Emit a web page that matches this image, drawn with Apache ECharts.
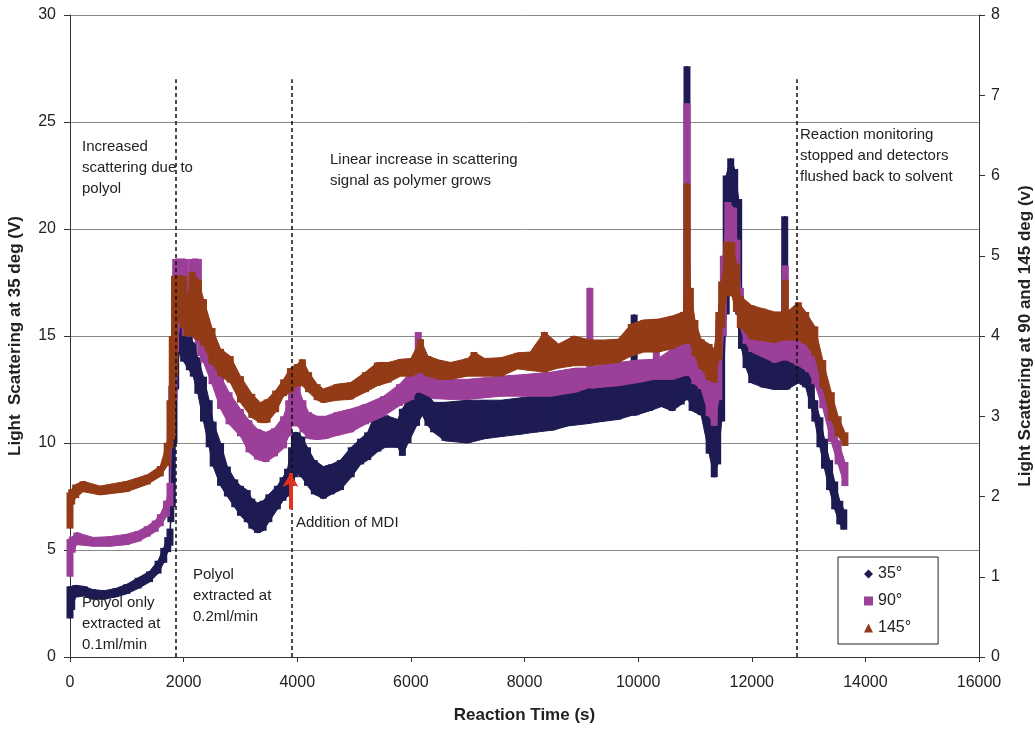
<!DOCTYPE html>
<html><head><meta charset="utf-8">
<script src="https://cdn.jsdelivr.net/npm/echarts@6/dist/echarts.min.js"></script>
<style>html,body{margin:0;padding:0;background:#fff}#c{width:1035px;height:729px}</style>
</head><body><div id="c"></div>
<script>
// ---- 35° (left axis, V): time, lower and upper edge of the scatter band ----
const time35 = [0,30,100,250,400,600,800,1000,1200,1400,1550,1650,1720,1760,1775,1800,1830,1860,1920,2000,2100,2170,2250,2350,2450,2520,2650,2770,2900,3000,3120,3200,3300,3400,3500,3650,3750,3830,3900,3950,4000,4080,4180,4300,4460,4600,4760,4950,5115,5240,5420,5550,5770,5850,5950,6100,6200,6300,6400,6600,7000,7300,7590,7900,8170,8500,8770,9100,9350,9650,9900,9930,9960,10200,10410,10600,10760,10830,10860,10890,10950,11110,11250,11340,11400,11470,11550,11630,11700,11770,11820,11900,12000,12200,12400,12540,12580,12620,12820,12950,13050,13110,13200,13280,13370,13460,13550,13620];
const low35  = [1.8,2.2,2.8,2.85,2.7,2.7,2.8,2.95,3.2,3.5,3.9,4.4,4.9,5.2,6.3,7.0,10.0,12.5,14.2,13.8,13.4,13.1,12.3,11.0,9.8,8.9,8.0,7.5,7.0,6.6,6.3,6.0,5.8,5.9,6.3,6.9,7.3,7.5,8.0,8.4,8.6,8.4,8.0,7.6,7.4,7.6,7.8,8.4,9.0,9.2,9.6,9.8,9.8,9.4,10.0,10.8,11.3,10.8,10.5,10.1,10.0,10.2,10.3,10.4,10.5,10.6,10.8,10.9,11.0,11.1,11.3,11.3,11.3,11.5,11.7,11.5,11.8,12.0,12.5,12.0,11.5,11.3,9.5,8.4,9.0,11.0,16.0,21.0,19.5,16.0,14.4,13.5,12.8,12.6,12.5,12.5,12.5,12.5,12.8,12.6,11.6,11.0,9.8,8.8,7.8,6.9,6.2,5.95];
const high35 = [3.3,3.3,3.35,3.3,3.15,3.1,3.2,3.4,3.7,4.0,4.5,5.1,5.6,6.0,7.0,10.0,12.5,15.0,15.6,15.3,15.0,14.7,14.0,13.1,12.0,11.0,10.0,8.9,8.3,8.0,7.8,7.4,7.2,7.3,7.6,8.0,8.4,8.8,9.8,10.5,10.5,10.3,9.8,9.2,8.9,9.0,9.2,9.8,10.2,10.5,11.7,11.3,11.1,11.6,12.0,12.6,12.7,12.3,11.9,11.9,12.0,12.0,12.0,12.1,12.2,12.3,12.5,12.6,12.7,12.8,13.0,16.0,13.0,13.2,13.3,13.5,13.6,13.6,27.6,14.0,13.4,13.1,12.0,11.3,12.5,16.5,22.5,23.3,22.8,21.4,16.5,15.5,14.7,14.3,14.1,14.0,20.6,14.0,14.1,13.9,13.0,12.0,11.2,10.2,9.2,8.2,7.3,6.9];

// ---- 90° (right axis, V) ----
const time90 = [0,40,120,410,700,1000,1200,1360,1500,1590,1700,1760,1790,1830,1860,1950,2030,2070,2150,2260,2300,2350,2500,2650,2800,3000,3150,3300,3450,3600,3760,3850,3900,4000,4100,4200,4350,4500,4700,4940,5200,5520,5800,6000,6100,6130,6160,6400,6700,7000,7590,8000,8470,8900,9120,9150,9180,9650,10000,10290,10320,10350,10600,10800,10860,10900,11000,11110,11250,11340,11420,11500,11580,11680,11740,11800,11900,12000,12400,12560,12590,12620,12820,13000,13110,13250,13400,13520,13640];
const low90  = [1.0,1.3,1.4,1.38,1.38,1.4,1.44,1.5,1.56,1.63,1.75,1.88,2.8,3.2,3.8,4.2,4.0,4.0,4.0,3.9,3.75,3.67,3.4,3.09,2.9,2.75,2.55,2.46,2.43,2.5,2.6,2.75,2.88,2.88,2.8,2.72,2.71,2.72,2.76,2.8,2.9,3.0,3.13,3.2,3.3,3.3,3.3,3.22,3.21,3.21,3.25,3.25,3.25,3.3,3.35,3.5,3.35,3.38,3.42,3.46,3.46,3.46,3.46,3.5,3.6,3.5,3.4,3.34,3.0,2.88,3.2,4.0,5.0,5.0,4.4,4.1,3.9,3.8,3.67,3.7,3.7,3.7,3.63,3.55,3.4,3.1,2.68,2.4,2.13];
const high90 = [1.47,1.5,1.55,1.49,1.5,1.53,1.57,1.63,1.7,1.78,1.95,2.17,3.38,3.9,4.96,4.96,4.96,4.5,4.96,4.96,4.3,4.17,3.85,3.5,3.3,3.09,2.95,2.84,2.8,2.85,3.0,3.2,3.38,3.38,3.2,3.05,3.0,3.0,3.05,3.09,3.15,3.25,3.4,3.55,3.55,4.05,3.55,3.48,3.46,3.46,3.5,3.52,3.55,3.6,3.6,4.6,3.62,3.67,3.7,3.71,4.21,3.72,3.84,3.9,6.9,4.2,3.8,3.63,3.5,3.5,4.2,5.0,5.67,5.6,5.2,4.6,4.3,4.1,4.0,4.0,4.88,4.0,4.05,3.95,3.84,3.45,3.0,2.7,2.43];

// ---- 145° (right axis, V) ----
const time145 = [0,30,100,230,530,1000,1360,1590,1710,1760,1800,1840,1900,2000,2060,2150,2260,2350,2500,2650,2820,3000,3200,3350,3470,3620,3760,3880,4000,4090,4200,4350,4460,4700,4940,5200,5410,5600,5820,6000,6170,6300,6500,6700,7000,7110,7300,7590,7880,8100,8350,8600,8870,9150,9400,9650,9880,10100,10350,10600,10800,10860,10920,11000,11110,11250,11340,11420,11470,11560,11650,11730,11800,12000,12200,12400,12560,12590,12620,12820,12950,13110,13250,13400,13520,13640];
const low145  = [1.6,1.9,1.98,2.06,2.02,2.06,2.15,2.25,2.38,2.6,2.71,3.5,4.2,4.1,4.0,4.0,3.95,3.88,3.65,3.5,3.42,3.17,2.98,2.92,2.92,3.05,3.25,3.3,3.38,3.38,3.3,3.2,3.17,3.2,3.21,3.3,3.38,3.42,3.5,3.5,3.55,3.5,3.46,3.46,3.5,3.5,3.5,3.5,3.59,3.57,3.55,3.6,3.63,3.63,3.65,3.67,3.75,3.8,3.8,3.84,3.9,4.0,3.9,3.75,3.59,3.45,3.42,3.7,4.1,4.5,4.5,4.3,4.1,3.96,3.94,3.92,3.95,3.95,3.95,3.95,3.9,3.75,3.35,2.95,2.75,2.63];
const high145 = [2.05,2.09,2.15,2.19,2.13,2.19,2.27,2.38,2.67,3.2,4.0,4.75,4.75,4.75,4.46,4.8,4.7,4.46,4.1,3.84,3.75,3.5,3.28,3.17,3.21,3.32,3.46,3.6,3.65,3.71,3.55,3.4,3.34,3.4,3.42,3.55,3.67,3.67,3.71,3.72,3.96,3.75,3.7,3.67,3.72,3.8,3.72,3.73,3.79,3.8,4.05,3.9,4.0,3.95,3.95,3.96,4.15,4.2,4.21,4.25,4.3,5.9,4.6,4.2,3.96,3.9,3.84,4.3,4.68,5.17,5.17,4.9,4.5,4.38,4.34,4.3,4.3,4.7,4.3,4.42,4.3,4.12,3.7,3.3,3.0,2.8];

// ---- annotations ----
const phaseTimes = [1865, 3910, 12795];   // dashed phase boundaries (s)
const phaseTop = 27;                       // top of dashed lines (left axis units)
const mdiArrow = {time: 3880, from: 6.9, to: 8.6};

const xTicks = {min: 0, max: 16000, interval: 2000};
const leftTicks = {min: 0, max: 30, interval: 5};
const rightTicks = {min: 0, max: 8, interval: 1};

const FONT = '"Liberation Sans", Arial, sans-serif';
const C35 = '#1d1b52', C90 = '#9b3f98', C145 = '#923b16';

function band(ts, los, his) {
  return function (params, api) {
    const i = params.dataIndex;
    const color = api.visual('color');
    const a = api.coord([ts[i], his[i]]);
    const b = api.coord([ts[i], los[i]]);
    const kids = [{
      type: 'rect',
      shape: {x: a[0] - 3.5, y: a[1], width: 7, height: Math.max(b[1] - a[1], 6)},
      style: {fill: color}
    }];
    if (i < ts.length - 1) {
      const c = api.coord([ts[i + 1], his[i + 1]]);
      const d = api.coord([ts[i + 1], los[i + 1]]);
      kids.push({type: 'polygon', shape: {points: [a, c, d, b]},
        style: {fill: color, stroke: color, lineWidth: 1}});
    }
    return {type: 'group', children: kids};
  };
}
function rows(ts, los, his) { return ts.map((t, i) => [t, los[i], his[i]]); }

const chart = echarts.init(document.getElementById('c'), null, {renderer: 'canvas'});
function note(left, top, text) {
  return {type: 'text', left: left, top: top, z: 100,
    style: {text: text, font: '15px ' + FONT, fill: '#222', lineHeight: 21}};
}
const plain = v => String(v);

chart.setOption({
  animation: false,
  backgroundColor: '#fff',
  grid: {left: 70, right: 56, top: 15, bottom: 72, containLabel: false, outerBoundsMode: 'none'},
  legend: {
    data: [{name: '35°', icon: 'diamond'}, {name: '90°', icon: 'rect'}, {name: '145°', icon: 'triangle'}],
    orient: 'vertical', left: 838, top: 557,
    itemWidth: 9, itemHeight: 9, itemGap: 11,
    padding: [9, 27, 8, 26],
    backgroundColor: '#fff', borderColor: '#222', borderWidth: 1, borderRadius: 0,
    selectedMode: false,
    textStyle: {fontFamily: FONT, fontSize: 16, color: '#222'}
  },
  xAxis: {
    type: 'value', min: xTicks.min, max: xTicks.max, interval: xTicks.interval,
    name: 'Reaction Time (s)', nameLocation: 'middle', nameGap: 50,
    nameTextStyle: {fontFamily: FONT, fontSize: 17, fontWeight: 'bold', color: '#222'},
    axisLine: {show: true, onZero: false, lineStyle: {color: '#333', width: 1}},
    axisTick: {show: true, length: 5, lineStyle: {color: '#333'}},
    axisLabel: {fontFamily: FONT, fontSize: 16, color: '#222', margin: 18, formatter: plain},
    splitLine: {show: false}
  },
  yAxis: [{
    type: 'value', min: leftTicks.min, max: leftTicks.max, interval: leftTicks.interval,
    name: 'Light  Scattering at 35 deg (V)', nameLocation: 'middle', nameGap: 46,
    nameTextStyle: {fontFamily: FONT, fontSize: 17, fontWeight: 'bold', color: '#222'},
    axisLine: {show: true, lineStyle: {color: '#333', width: 1}},
    axisTick: {show: true, length: 6, lineStyle: {color: '#333'}},
    axisLabel: {fontFamily: FONT, fontSize: 16, color: '#222', margin: 14, formatter: plain},
    splitLine: {show: true, lineStyle: {color: '#8a8a8a', width: 1}}
  }, {
    type: 'value', position: 'right', min: rightTicks.min, max: rightTicks.max, interval: rightTicks.interval,
    name: 'Light Scattering at 90 and 145 deg (v)', nameLocation: 'middle', nameGap: 38,
    nameRotate: 90,
    nameTextStyle: {fontFamily: FONT, fontSize: 17, fontWeight: 'bold', color: '#222'},
    axisLine: {show: true, lineStyle: {color: '#333', width: 1}},
    axisTick: {show: true, length: 6, lineStyle: {color: '#333'}},
    axisLabel: {fontFamily: FONT, fontSize: 16, color: '#222', margin: 12, formatter: plain},
    splitLine: {show: false}
  }],
  graphic: [
    note(82, 136, 'Increased\nscattering due to\npolyol'),
    note(330, 149, 'Linear increase in scattering\nsignal as polymer grows'),
    note(800, 124, 'Reaction monitoring\nstopped and detectors\nflushed back to solvent'),
    note(82, 592, 'Polyol only\nextracted at\n0.1ml/min'),
    note(193, 564, 'Polyol\nextracted at\n0.2ml/min'),
    note(296, 512, 'Addition of MDI')
  ],
  series: [{
    name: '35°', type: 'custom', yAxisIndex: 0, z: 2,
    itemStyle: {color: C35},
    data: rows(time35, low35, high35),
    encode: {x: 0, y: [1, 2]},
    renderItem: band(time35, low35, high35)
  }, {
    name: '90°', type: 'custom', yAxisIndex: 1, z: 3,
    itemStyle: {color: C90},
    data: rows(time90, low90, high90),
    encode: {x: 0, y: [1, 2]},
    renderItem: band(time90, low90, high90)
  }, {
    name: '145°', type: 'custom', yAxisIndex: 1, z: 4,
    itemStyle: {color: C145},
    data: rows(time145, low145, high145),
    encode: {x: 0, y: [1, 2]},
    renderItem: band(time145, low145, high145)
  }, {
    name: 'marks', type: 'line', yAxisIndex: 0, data: [], z: 10,
    markLine: {
      silent: true, animation: false, symbol: 'none', label: {show: false},
      lineStyle: {color: '#111', type: [4, 3], width: 1.5},
      data: phaseTimes.map(t => [{coord: [t, 0]}, {coord: [t, phaseTop]}]).concat([[
        {coord: [mdiArrow.time, mdiArrow.from], symbol: 'none',
         lineStyle: {color: '#e2321e', type: 'solid', width: 4}},
        {coord: [mdiArrow.time, mdiArrow.to], symbol: 'arrow', symbolSize: [12, 14]}
      ]])
    }
  }]
});
</script></body></html>
